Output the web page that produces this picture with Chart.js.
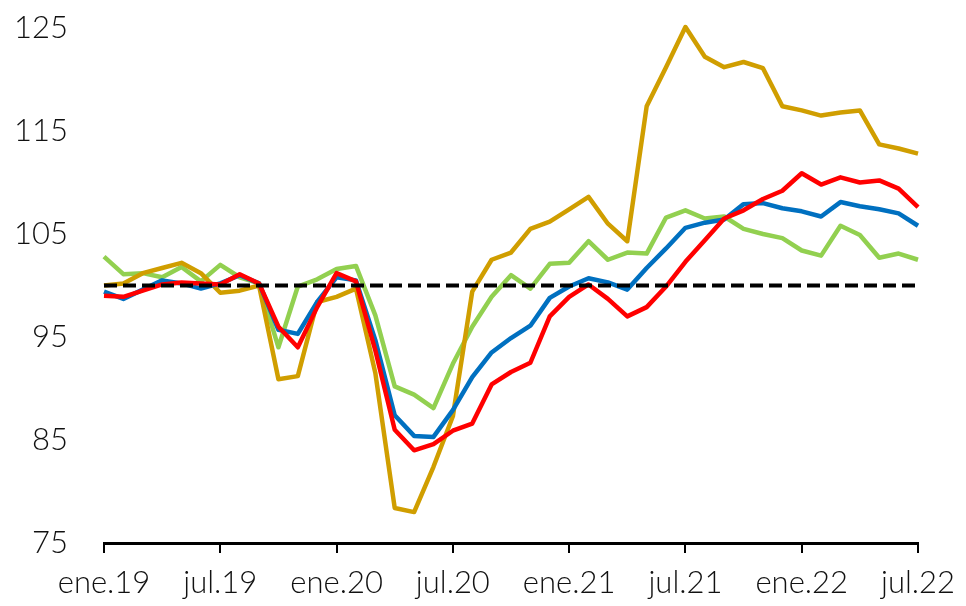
<!DOCTYPE html>
<html>
<head>
<meta charset="utf-8">
<script src="https://cdn.jsdelivr.net/npm/chart.js@4.4.1/dist/chart.umd.min.js"></script>
<style>
html,body{margin:0;padding:0;background:#fff;}
#wrap{width:966px;height:606px;}
</style>
</head>
<body>
<div id="wrap"><canvas id="c" width="966" height="606"></canvas></div>
<script>
const categories = ["ene.19","feb.19","mar.19","abr.19","may.19","jun.19","jul.19","ago.19","sep.19","oct.19","nov.19","dic.19",
"ene.20","feb.20","mar.20","abr.20","may.20","jun.20","jul.20","ago.20","sep.20","oct.20","nov.20","dic.20",
"ene.21","feb.21","mar.21","abr.21","may.21","jun.21","jul.21","ago.21","sep.21","oct.21","nov.21","dic.21",
"ene.22","feb.22","mar.22","abr.22","may.22","jun.22","jul.22"];

const blueSeries = [99.4,98.7,99.6,100.5,100.2,99.7,100.2,101.0,100.2,95.7,95.3,98.4,
100.8,100.5,94.7,87.4,85.4,85.3,87.9,91.1,93.5,94.9,96.1,98.8,
99.9,100.7,100.3,99.6,101.7,103.6,105.6,106.1,106.4,107.9,108.0,107.5,
107.2,106.7,108.1,107.7,107.4,107.0,105.8];

const redSeries = [99.0,98.9,99.5,100.1,100.3,100.2,100.1,101.1,100.2,96.0,94.0,97.9,
101.2,100.4,93.7,86.0,84.0,84.6,85.9,86.6,90.4,91.6,92.5,97.0,
98.9,100.1,98.7,97.0,97.9,99.9,102.3,104.4,106.5,107.3,108.4,109.2,
110.9,109.8,110.5,110.0,110.2,109.4,107.6];

const greenSeries = [102.8,101.1,101.2,100.8,101.8,100.4,102.0,100.8,100.2,94.0,99.9,100.6,
101.6,101.9,97.1,90.2,89.4,88.1,92.4,96.0,98.9,101.0,99.7,102.1,
102.2,104.3,102.5,103.2,103.1,106.6,107.3,106.5,106.7,105.5,105.0,104.6,
103.4,102.9,105.8,104.9,102.7,103.1,102.5];

const goldSeries = [100.0,100.2,101.2,101.7,102.2,101.2,99.3,99.5,100.0,90.9,91.2,98.4,
98.9,99.7,91.5,78.4,78.0,82.4,87.3,99.4,102.5,103.2,105.5,106.2,
107.4,108.6,106.0,104.3,117.4,121.2,125.1,122.2,121.2,121.7,121.1,117.4,
117.0,116.5,116.8,117.0,113.7,113.3,112.8];

const baseLine = categories.map(() => 100);

const yTicks = [75, 85, 95, 105, 115, 125];

const FONT = "Lato, 'Open Sans', sans-serif";

function ds(data, color, extra) {
  return Object.assign({
    data: data,
    borderColor: color,
    backgroundColor: color,
    borderWidth: 4.5,
    pointRadius: 0,
    pointHoverRadius: 0,
    tension: 0,
    fill: false,
    clip: false,
    borderJoinStyle: 'round'
  }, extra || {});
}

new Chart(document.getElementById('c'), {
  type: 'line',
  data: {
    labels: categories,
    datasets: [
      ds(baseLine, '#000000', {borderDash: [13, 6], borderWidth: 4, borderJoinStyle: 'miter'}),
      ds(redSeries, '#FF0000'),
      ds(blueSeries, '#0070C0'),
      ds(goldSeries, '#D09E00'),
      ds(greenSeries, '#92D050')
    ]
  },
  options: {
    responsive: false,
    animation: false,
    events: [],
    layout: { padding: { top: 28, right: 47, left: 0, bottom: 0 } },
    plugins: { legend: { display: false }, tooltip: { enabled: false } },
    scales: {
      x: {
        type: 'category',
        offset: false,
        grid: { display: true, drawOnChartArea: false, drawTicks: true, tickLength: 10, color: '#000', lineWidth: 2 },
        border: { display: true, color: '#000', width: 3 },
        ticks: {
          autoSkip: false, maxRotation: 0, minRotation: 0, padding: 11,
          color: '#111',
          font: { family: FONT, size: 31, weight: '300' },
          callback: function(v, i) { return i % 6 === 0 ? categories[i] : null; }
        },
        afterFit: function(s) { s.height = 63; }
      },
      y: {
        min: 75, max: 125,
        grid: { display: false, drawTicks: true, tickLength: 30 },
        border: { display: false },
        afterBuildTicks: function(s) { s.ticks = yTicks.map(v => ({ value: v })); },
        ticks: {
          padding: 6,
          color: '#111',
          font: { family: FONT, size: 31, weight: '300' }
        },
        afterFit: function(s) { s.width = 104; s.paddingTop = 0; s.paddingBottom = 0; }
      }
    }
  }
});
</script>
</body>
</html>
